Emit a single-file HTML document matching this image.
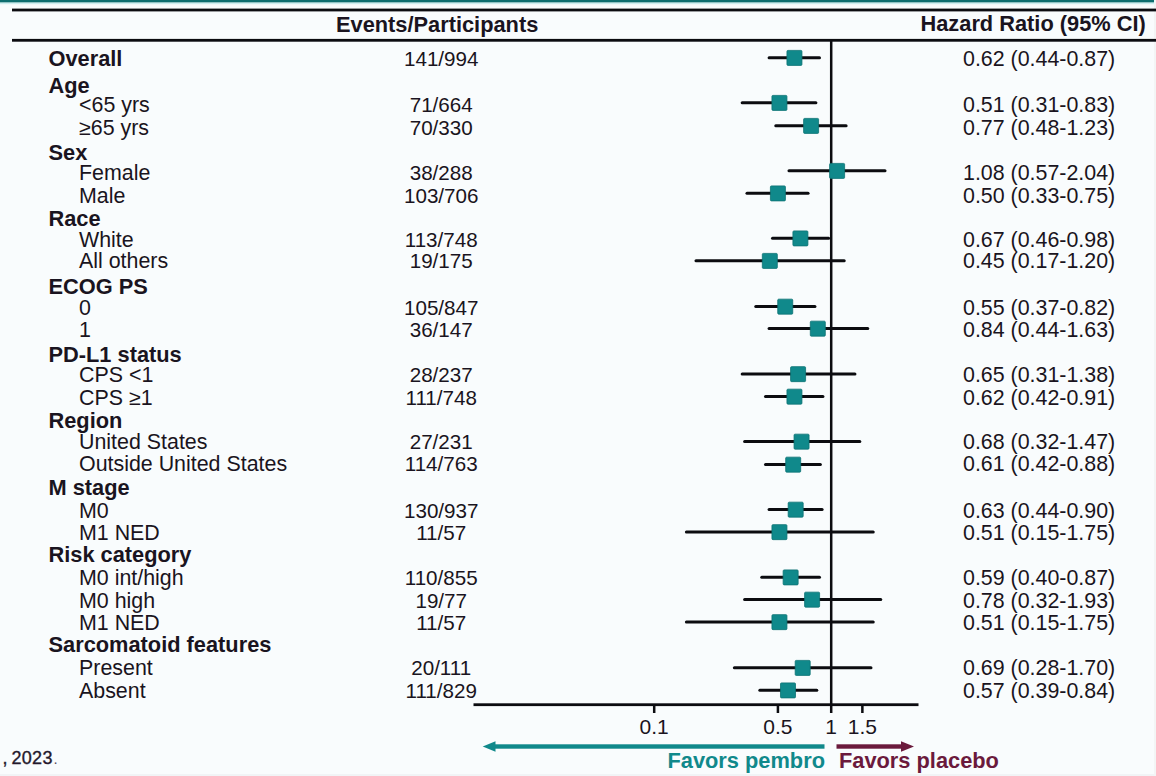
<!DOCTYPE html>
<html><head><meta charset="utf-8">
<style>
html,body{margin:0;padding:0;background:#f9fcfd;}
body{width:1156px;height:776px;overflow:hidden;position:relative;}
svg{position:absolute;left:0;top:0;display:block;}
text{font-family:"Liberation Sans",sans-serif;fill:#1a1420;}
.b{font-weight:bold;font-size:21.8px;}
.r{font-size:21.4px;}
.ev{font-size:20.6px;}
.hr{font-size:21.4px;}
.tk{font-size:21px;}
</style></head><body>
<svg width="1156" height="776" viewBox="0 0 1156 776">
<rect x="0" y="0" width="1156" height="776" fill="#f9fcfd"/>
<rect x="0" y="0" width="1156" height="2.6" fill="#0d6e6f"/>
<rect x="0" y="2.6" width="1156" height="1.6" fill="#cfeff0"/>
<rect x="0" y="774" width="1156" height="2" fill="#f1f4f6"/>
<rect x="1154" y="0" width="2" height="776" fill="#f3f5f5"/>
<rect x="12" y="8.6" width="1144" height="2.8" fill="#0c0c10"/>
<rect x="12" y="38.9" width="1144" height="2.8" fill="#0c0c10"/>
<text class="b" x="336" y="32">Events/Participants</text>
<text class="b" x="920.5" y="31">Hazard Ratio (95% CI)</text>

<text class="b" x="48.5" y="66">Overall</text>
<text class="ev" x="441.2" y="66" text-anchor="middle">141/994</text>
<text class="hr" x="963" y="66">0.62 (0.44-0.87)</text>
<text class="b" x="48.5" y="92.5">Age</text>
<text class="r" x="79" y="112">&lt;65 yrs</text>
<text class="ev" x="441.2" y="112" text-anchor="middle">71/664</text>
<text class="hr" x="963" y="112">0.51 (0.31-0.83)</text>
<text class="r" x="79" y="135">≥65 yrs</text>
<text class="ev" x="441.2" y="135" text-anchor="middle">70/330</text>
<text class="hr" x="963" y="135">0.77 (0.48-1.23)</text>
<text class="b" x="48.5" y="160">Sex</text>
<text class="r" x="79" y="180">Female</text>
<text class="ev" x="441.2" y="180" text-anchor="middle">38/288</text>
<text class="hr" x="963" y="180">1.08 (0.57-2.04)</text>
<text class="r" x="79" y="203">Male</text>
<text class="ev" x="441.2" y="203" text-anchor="middle">103/706</text>
<text class="hr" x="963" y="203">0.50 (0.33-0.75)</text>
<text class="b" x="48.5" y="226.25">Race</text>
<text class="r" x="79" y="247">White</text>
<text class="ev" x="441.2" y="247" text-anchor="middle">113/748</text>
<text class="hr" x="963" y="247">0.67 (0.46-0.98)</text>
<text class="r" x="79" y="268">All others</text>
<text class="ev" x="441.2" y="268" text-anchor="middle">19/175</text>
<text class="hr" x="963" y="268">0.45 (0.17-1.20)</text>
<text class="b" x="48.5" y="293.75">ECOG PS</text>
<text class="r" x="79" y="315">0</text>
<text class="ev" x="441.2" y="315" text-anchor="middle">105/847</text>
<text class="hr" x="963" y="315">0.55 (0.37-0.82)</text>
<text class="r" x="79" y="337">1</text>
<text class="ev" x="441.2" y="337" text-anchor="middle">36/147</text>
<text class="hr" x="963" y="337">0.84 (0.44-1.63)</text>
<text class="b" x="48.5" y="362">PD-L1 status</text>
<text class="r" x="79" y="382">CPS &lt;1</text>
<text class="ev" x="441.2" y="382" text-anchor="middle">28/237</text>
<text class="hr" x="963" y="382">0.65 (0.31-1.38)</text>
<text class="r" x="79" y="404.5">CPS ≥1</text>
<text class="ev" x="441.2" y="404.5" text-anchor="middle">111/748</text>
<text class="hr" x="963" y="404.5">0.62 (0.42-0.91)</text>
<text class="b" x="48.5" y="427.5">Region</text>
<text class="r" x="79" y="448.75">United States</text>
<text class="ev" x="441.2" y="448.75" text-anchor="middle">27/231</text>
<text class="hr" x="963" y="448.75">0.68 (0.32-1.47)</text>
<text class="r" x="79" y="470.75">Outside United States</text>
<text class="ev" x="441.2" y="470.75" text-anchor="middle">114/763</text>
<text class="hr" x="963" y="470.75">0.61 (0.42-0.88)</text>
<text class="b" x="48.5" y="495">M stage</text>
<text class="r" x="79" y="517.5">M0</text>
<text class="ev" x="441.2" y="517.5" text-anchor="middle">130/937</text>
<text class="hr" x="963" y="517.5">0.63 (0.44-0.90)</text>
<text class="r" x="79" y="540">M1 NED</text>
<text class="ev" x="441.2" y="540" text-anchor="middle">11/57</text>
<text class="hr" x="963" y="540">0.51 (0.15-1.75)</text>
<text class="b" x="48.5" y="562">Risk category</text>
<text class="r" x="79" y="585">M0 int/high</text>
<text class="ev" x="441.2" y="585" text-anchor="middle">110/855</text>
<text class="hr" x="963" y="585">0.59 (0.40-0.87)</text>
<text class="r" x="79" y="607.5">M0 high</text>
<text class="ev" x="441.2" y="607.5" text-anchor="middle">19/77</text>
<text class="hr" x="963" y="607.5">0.78 (0.32-1.93)</text>
<text class="r" x="79" y="629.5">M1 NED</text>
<text class="ev" x="441.2" y="629.5" text-anchor="middle">11/57</text>
<text class="hr" x="963" y="629.5">0.51 (0.15-1.75)</text>
<text class="b" x="48.5" y="652">Sarcomatoid features</text>
<text class="r" x="79" y="675">Present</text>
<text class="ev" x="441.2" y="675" text-anchor="middle">20/111</text>
<text class="hr" x="963" y="675">0.69 (0.28-1.70)</text>
<text class="r" x="79" y="697.5">Absent</text>
<text class="ev" x="441.2" y="697.5" text-anchor="middle">111/829</text>
<text class="hr" x="963" y="697.5">0.57 (0.39-0.84)</text>
<rect x="829.95" y="40" width="2.5" height="673" fill="#0c0c10"/>
<rect x="473.5" y="703.3" width="445" height="2.8" fill="#0c0c10"/>
<rect x="652.95" y="704" width="2.5" height="9" fill="#0c0c10"/>
<rect x="776.67" y="704" width="2.5" height="9" fill="#0c0c10"/>
<rect x="861.12" y="704" width="2.5" height="9" fill="#0c0c10"/>
<text class="tk" x="654.20" y="733.8" text-anchor="middle">0.1</text>
<text class="tk" x="777.92" y="733.8" text-anchor="middle">0.5</text>
<text class="tk" x="831.20" y="733.8" text-anchor="middle">1</text>
<text class="tk" x="862.37" y="733.8" text-anchor="middle">1.5</text>
<line x1="769.09" y1="57.80" x2="819.49" y2="57.80" stroke="#0c0c10" stroke-width="3" stroke-linecap="round"/>
<rect x="786.95" y="50.40" width="15" height="15" rx="1" fill="#10898b" stroke="#0c7274" stroke-width="0.8"/>
<line x1="742.17" y1="102.80" x2="815.88" y2="102.80" stroke="#0c0c10" stroke-width="3" stroke-linecap="round"/>
<rect x="771.94" y="95.40" width="15" height="15" rx="1" fill="#10898b" stroke="#0c7274" stroke-width="0.8"/>
<line x1="775.78" y1="125.80" x2="846.11" y2="125.80" stroke="#0c0c10" stroke-width="3" stroke-linecap="round"/>
<rect x="803.61" y="118.40" width="15" height="15" rx="1" fill="#10898b" stroke="#0c7274" stroke-width="0.8"/>
<line x1="788.99" y1="170.80" x2="885.00" y2="170.80" stroke="#0c0c10" stroke-width="3" stroke-linecap="round"/>
<rect x="829.62" y="163.40" width="15" height="15" rx="1" fill="#10898b" stroke="#0c7274" stroke-width="0.8"/>
<line x1="746.98" y1="193.30" x2="808.09" y2="193.30" stroke="#0c0c10" stroke-width="3" stroke-linecap="round"/>
<rect x="770.42" y="185.90" width="15" height="15" rx="1" fill="#10898b" stroke="#0c7274" stroke-width="0.8"/>
<line x1="772.51" y1="238.30" x2="828.65" y2="238.30" stroke="#0c0c10" stroke-width="3" stroke-linecap="round"/>
<rect x="792.92" y="230.90" width="15" height="15" rx="1" fill="#10898b" stroke="#0c7274" stroke-width="0.8"/>
<line x1="695.99" y1="260.80" x2="844.22" y2="260.80" stroke="#0c0c10" stroke-width="3" stroke-linecap="round"/>
<rect x="762.32" y="253.40" width="15" height="15" rx="1" fill="#10898b" stroke="#0c7274" stroke-width="0.8"/>
<line x1="755.77" y1="306.55" x2="814.95" y2="306.55" stroke="#0c0c10" stroke-width="3" stroke-linecap="round"/>
<rect x="777.74" y="299.15" width="15" height="15" rx="1" fill="#10898b" stroke="#0c7274" stroke-width="0.8"/>
<line x1="769.09" y1="328.55" x2="867.76" y2="328.55" stroke="#0c0c10" stroke-width="3" stroke-linecap="round"/>
<rect x="810.30" y="321.15" width="15" height="15" rx="1" fill="#10898b" stroke="#0c7274" stroke-width="0.8"/>
<line x1="742.17" y1="374.05" x2="854.96" y2="374.05" stroke="#0c0c10" stroke-width="3" stroke-linecap="round"/>
<rect x="790.59" y="366.65" width="15" height="15" rx="1" fill="#10898b" stroke="#0c7274" stroke-width="0.8"/>
<line x1="765.52" y1="396.55" x2="822.95" y2="396.55" stroke="#0c0c10" stroke-width="3" stroke-linecap="round"/>
<rect x="786.95" y="389.15" width="15" height="15" rx="1" fill="#10898b" stroke="#0c7274" stroke-width="0.8"/>
<line x1="744.61" y1="441.55" x2="859.82" y2="441.55" stroke="#0c0c10" stroke-width="3" stroke-linecap="round"/>
<rect x="794.05" y="434.15" width="15" height="15" rx="1" fill="#10898b" stroke="#0c7274" stroke-width="0.8"/>
<line x1="765.52" y1="464.55" x2="820.37" y2="464.55" stroke="#0c0c10" stroke-width="3" stroke-linecap="round"/>
<rect x="785.70" y="457.15" width="15" height="15" rx="1" fill="#10898b" stroke="#0c7274" stroke-width="0.8"/>
<line x1="769.09" y1="509.55" x2="822.10" y2="509.55" stroke="#0c0c10" stroke-width="3" stroke-linecap="round"/>
<rect x="788.18" y="502.15" width="15" height="15" rx="1" fill="#10898b" stroke="#0c7274" stroke-width="0.8"/>
<line x1="686.37" y1="532.05" x2="873.22" y2="532.05" stroke="#0c0c10" stroke-width="3" stroke-linecap="round"/>
<rect x="771.94" y="524.65" width="15" height="15" rx="1" fill="#10898b" stroke="#0c7274" stroke-width="0.8"/>
<line x1="761.76" y1="577.30" x2="819.49" y2="577.30" stroke="#0c0c10" stroke-width="3" stroke-linecap="round"/>
<rect x="783.14" y="569.90" width="15" height="15" rx="1" fill="#10898b" stroke="#0c7274" stroke-width="0.8"/>
<line x1="744.61" y1="599.55" x2="880.74" y2="599.55" stroke="#0c0c10" stroke-width="3" stroke-linecap="round"/>
<rect x="804.60" y="592.15" width="15" height="15" rx="1" fill="#10898b" stroke="#0c7274" stroke-width="0.8"/>
<line x1="686.37" y1="622.05" x2="873.22" y2="622.05" stroke="#0c0c10" stroke-width="3" stroke-linecap="round"/>
<rect x="771.94" y="614.65" width="15" height="15" rx="1" fill="#10898b" stroke="#0c7274" stroke-width="0.8"/>
<line x1="734.35" y1="667.80" x2="870.99" y2="667.80" stroke="#0c0c10" stroke-width="3" stroke-linecap="round"/>
<rect x="795.18" y="660.40" width="15" height="15" rx="1" fill="#10898b" stroke="#0c7274" stroke-width="0.8"/>
<line x1="759.82" y1="690.30" x2="816.80" y2="690.30" stroke="#0c0c10" stroke-width="3" stroke-linecap="round"/>
<rect x="780.49" y="682.90" width="15" height="15" rx="1" fill="#10898b" stroke="#0c7274" stroke-width="0.8"/>
<rect x="494" y="744.3" width="330.5" height="4.4" fill="#10898b"/>
<polygon points="482.7,746.5 495.5,741.2 495.5,751.8" fill="#10898b"/>
<rect x="836.5" y="744.3" width="66" height="4.4" fill="#6b1a3c"/>
<polygon points="914,746.5 901,741.2 901,751.8" fill="#6b1a3c"/>
<text class="b" x="667.5" y="767.5" style="fill:#10898b">Favors pembro</text>
<text class="b" x="839" y="768" style="fill:#6b1a3c">Favors placebo</text>
<text x="2.6" y="764.2" style="font-size:18px;fill:#24182c;stroke:#24182c;stroke-width:0.35px">,</text>
<text x="11.4" y="764.2" style="font-size:18px;letter-spacing:0.35px;fill:#24182c;stroke:#24182c;stroke-width:0.35px">2023</text>
<text x="53.6" y="764.2" style="font-size:15px;fill:#5a5060">.</text>
</svg></body></html>
